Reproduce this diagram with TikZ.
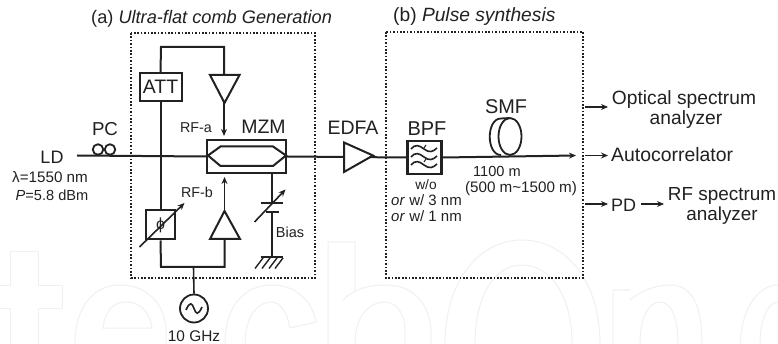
\documentclass[tikz,border=0pt]{standalone}
\usepackage{fontspec}
\setmainfont{Liberation Sans}
\usetikzlibrary{arrows.meta}
\definecolor{ink}{gray}{0.13}
\tikzset{
  x=1pt,y=-1pt,
  wire/.style={draw=ink,line width=2pt},
  thin wire/.style={draw=ink,line width=1.6pt},
  tip/.style={-{Stealth[length=7pt,width=6pt]}},
  frame/.style={draw=ink,line width=1.8pt,dash pattern=on 1.7pt off 1.7pt},
  wm/.style={draw=black!6,line width=1pt},
  txt/.style={inner sep=0pt,text=ink,font=\fontsize{#1}{#1}\selectfont},
  txt/.default=12
}
\begin{document}
\begin{tikzpicture}
\useasboundingbox (0,0) rectangle (778,344);
\fill[white] (0,0) rectangle (778,344);
% watermark
\draw[wm] (0,286)--(10,286)--(10,252)--(38,252)--(38,286)--(62,286)--(62,308)--(38,308)--(38,344) (10,344)--(10,308)--(0,308);
\draw[wm] (75,344) .. controls (75,305) and (95,285) .. (120,285) .. controls (148,285) and (165,305) .. (166,330)--(166,344);
\draw[wm] (103,328) .. controls (105,312) and (112,302) .. (126,302) .. controls (140,302) and (150,312) .. (152,328) -- cycle;
\draw[wm] (225,344) .. controls (225,305) and (245,285) .. (272,285) .. controls (295,285) and (312,300) .. (316,322) -- (290,328) .. controls (287,312) and (280,302) .. (272,302) .. controls (255,302) and (245,320) .. (245,344);
\draw[wm] (328,344)--(328,242)--(355,242)--(355,292) (343,300) .. controls (355,288) and (370,285) .. (385,285) .. controls (415,285) and (431,305) .. (431,335)--(431,344) (405,344)--(405,330) .. controls (405,312) and (395,302) .. (385,302) .. controls (370,302) and (355,315) .. (355,344);
\draw[wm] (445,344) .. controls (445,280) and (480,240) .. (522,240) .. controls (565,240) and (600,280) .. (600,344);
\draw[wm] (475,344) .. controls (475,295) and (495,265) .. (522,265) .. controls (550,265) and (572,295) .. (572,344);
\draw[wm] (613,344)--(613,290)--(630,290) (630,300) .. controls (645,288) and (660,285) .. (670,285) .. controls (692,285) and (702,305) .. (702,344) (678,344) .. controls (678,315) and (670,302) .. (660,302) .. controls (650,302) and (640,315) .. (640,344);
\draw[wm] (740,344) .. controls (742,305) and (760,285) .. (778,285) (760,344) .. controls (760,320) and (768,302) .. (778,302);

% frames
\draw[frame] (131,33) rectangle (315,278);
\draw[frame] (386,32) rectangle (583,278);

% coordinates
\coordinate (ldstart) at (77,155.5);
\coordinate (toptl) at (161,47);
\coordinate (toptr) at (224,47);
\coordinate (rfatip) at (224,136);
\coordinate (rfbtip) at (224.5,177);
\coordinate (botl) at (161,267);
\coordinate (botr) at (224.5,267);
\coordinate (botm) at (193.5,267);
\coordinate (mainend) at (576,155.5);
\coordinate (out1s) at (585,107);
\coordinate (out1e) at (608,107);
\coordinate (out2s) at (585,155.5);
\coordinate (out2e) at (608,155.5);
\coordinate (out3s) at (585,204);
\coordinate (out3e) at (608,204);

% nodes
\node[draw=ink,line width=2pt,fill=white,minimum width=42pt,minimum height=28pt,inner sep=0pt,text=ink,font=\fontsize{19.5}{19.5}\selectfont] (att) at (160.5,87) {ATT};
\node[draw=ink,line width=2pt,minimum width=29pt,minimum height=29pt,inner sep=0pt,text=ink] (phi) at (160.5,225) {\fontsize{16}{16}\selectfont ϕ};
\node[draw=ink,line width=2.2pt,minimum width=79pt,minimum height=33pt,inner sep=0pt] (mzm) at (246.5,156.5) {};
\node[draw=ink,line width=2.2pt,minimum width=34pt,minimum height=33pt,inner sep=0pt] (bpf) at (424.5,157.5) {};
\node[draw=ink,line width=1.8pt,circle,minimum size=28pt,inner sep=0pt] (osc) at (194,308.5) {};
\node[draw=ink,line width=1.8pt,circle,inner sep=0pt,minimum size=10.5pt] (pc1) at (98,149.5) {};
\node[draw=ink,line width=1.8pt,circle,inner sep=0pt,minimum size=10.5pt] (pc2) at (110,149.5) {};

% optical line
\draw[wire] (ldstart) -- (mzm.west);
\draw[wire] (mzm.east) -- (bpf.west);
\draw[wire,tip] (bpf.east) -- (mainend);
% RF network
\draw[wire] (att.north) -- (toptl) -- (toptr) -- (224,75);
\draw[wire] (att.south) -- (phi.north);
\draw[wire] (phi.south) -- (botl) -- (botr) -- (224.5,239);
\draw[thin wire] (botm) -- (osc.north);
\draw[thin wire,tip] (224,103) -- (rfatip);
\draw[thin wire,tip] (224.5,211) -- (rfbtip);
% amps
\draw[wire,fill=white] (210,75)--(239.5,75)--(224.5,103)--cycle;
\draw[wire,fill=white] (210,239)--(240,239)--(224.5,211)--cycle;
\draw[wire,fill=white] (344,142.5)--(373,155.5)--(344,172)--cycle;
% MZM arms
\draw[draw=ink,line width=2pt] (208,155.5)--(220.5,146.5)--(273,146.5)--(286,155.5)--(273,166)--(220.5,166)--cycle;
% phase shifter arrow
\draw[thin wire,tip] (139.5,247) -- (184.5,203);
% bias
\coordinate (capa) at (272,203);
\coordinate (capb) at (272,212);
\coordinate (gnd) at (272,257);
\draw[thin wire] (mzm.south -| capa) -- (capa);
\draw[thin wire] (capb) -- (gnd);
\draw[wire] (260.5,203.5)--(283,203.5);
\draw[wire] (266,212)--(279,212);
\draw[thin wire,tip] (254.5,222) -- (285.5,189.5);
\draw[wire] (261,257)--(283,257);
\draw[draw=ink,line width=1.4pt] (263,258)--(255,268.5) (270,258)--(262,268.5) (277,258)--(269,268.5) (283,258)--(275,268.5);
% oscillator sine
\draw[draw=ink,line width=1.6pt] (186,310) .. controls (190,301) and (192,303) .. (194,308.5) .. controls (196,314) and (198,316) .. (202,307);
% SMF coil
\draw[draw=ink,line width=1.8pt] (501,118.5) .. controls (486,118.5) and (486,155) .. (501,155);
\draw[draw=ink,line width=1.8pt] (501,118.5) -- (509,118);
\draw[draw=ink,line width=1.8pt] (510,136.5) ellipse (11.5pt and 18.5pt);
% BPF waves
\foreach \yy in {149,157,165}{
  \draw[draw=ink,line width=1.6pt] (411,\yy) .. controls (415,\yy-5) and (419,\yy-4) .. (424,\yy) .. controls (429,\yy+4) and (433,\yy+3) .. (437,\yy-1);
}
\draw[draw=ink,line width=1pt] (424,148)--(426,145) (424,162)--(426,159);
% outputs
\draw[thin wire,tip] (out1s) -- (out1e);
\draw[thin wire,tip] (out2s) -- (out2e);
\draw[thin wire,tip] (out3s) -- (out3e);
\coordinate (pdarrs) at (641,204);
\coordinate (pdarre) at (664,204);
\draw[thin wire,tip] (pdarrs) -- (pdarre);

% text
\node[txt=18.2,anchor=west] (ta) at (91,19) {(a) \textit{Ultra-flat comb Generation}};
\node[txt=19.2,anchor=west] (tb) at (393,17) {(b) \textit{Pulse synthesis}};
\node[txt=18] (tld) at (52,157) {LD};
\node[txt=18.7] (tpc) at (105,129) {PC};
\node[txt=19.5] (tmzm) at (263.5,127) {MZM};
\node[txt=19.5] (tedfa) at (353,128) {EDFA};
\node[txt=20] (tbpf) at (427,129) {BPF};
\node[txt=19.9] (tsmf) at (506,107) {SMF};
\node[txt=15.2] (tlam) at (50,177) {λ=1550 nm};
\node[txt=14.6] (tp) at (52,195) {\textit{P}=5.8 dBm};
\node[txt=14.3] (trfa) at (196,128) {RF-a};
\node[txt=14.3] (trfb) at (197,192) {RF-b};
\node[txt=14.5] (tbias) at (290,232) {Bias};
\node[txt=15.4] (tghz) at (194,336) {10 GHz};
\node[txt=13.7] (two) at (426,185) {w/o};
\node[txt=15] (tw3) at (426.5,200) {\textit{or} w/ 3 nm};
\node[txt=15] (tw1) at (426.5,216) {\textit{or} w/ 1 nm};
\node[txt=14.6] (t1100) at (497,171) {1100 m};
\node[txt=15.2] (trange) at (521,189) {(500 m\char`\~1500 m)};
\node[txt=19.2] (tosa1) at (684,99.5) {Optical spectrum};
\node[txt=19.2] (tosa2) at (686,120) {analyzer};
\node[txt=19.4,anchor=west] (tauto) at (611,155) {Autocorrelator};
\node[txt=18,anchor=west] (tpd) at (611,205) {PD};
\node[txt=18.9] (trf1) at (722,196) {RF spectrum};
\node[txt=18.9] (trf2) at (722,216) {analyzer};
\end{tikzpicture}
\end{document}
